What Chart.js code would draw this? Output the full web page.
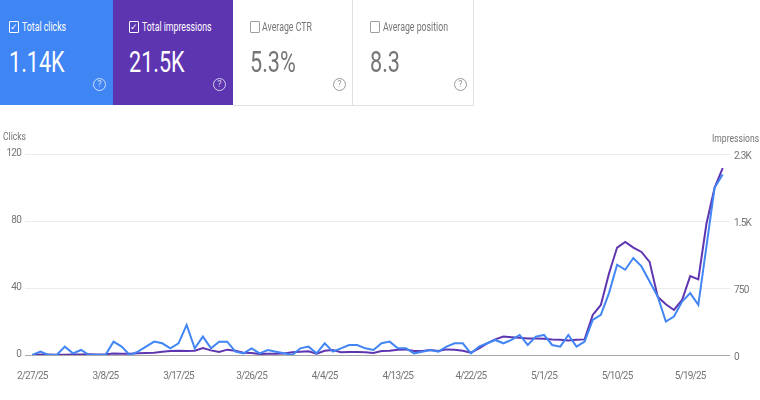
<!DOCTYPE html>
<html>
<head>
<meta charset="utf-8">
<title>Search performance</title>
<script src="https://cdn.jsdelivr.net/npm/chart.js@4"></script>
<style>
body { margin: 0; background: #fff; font-family: Roboto, sans-serif; width: 760px; height: 400px; overflow: hidden; position: relative; }
canvas { position: absolute; left: 0; top: 0; }
.card { position: absolute; top: 0; height: 105px; box-sizing: border-box; color: #fff; }
.card.off { color: #757575; border-right: 1px solid #e0e0e0; border-bottom: 1px solid #e0e0e0; height: 106px; }
.box { position: absolute; top: 21px; width: 8px; height: 10px; border: 1px solid #fff; border-radius: 1px; font-size: 9px; line-height: 10px; text-align: center; }
.off .box { border-color: #9e9e9e; }
.name { position: absolute; top: 19px; font-size: 12px; line-height: 16px; white-space: nowrap; transform: scaleX(.73); transform-origin: left; }
.num { position: absolute; top: 44px; font-size: 30px; line-height: 36px; white-space: nowrap; transform: scaleX(.72); transform-origin: left; }
.help { position: absolute; top: 78px; width: 11px; height: 11px; border: 1px solid; border-radius: 50%; font-size: 9px; line-height: 11px; text-align: center; opacity: .75; }
.axis { position: absolute; font-size: 11px; color: #757575; white-space: nowrap; transform: scaleX(.78); transform-origin: left; }
</style>
</head>
<body>
<canvas id="canvas" width="760" height="400"></canvas>

<div class="card" style="left:0;width:113px;background:#3f85f3">
  <div class="box" style="left:9px">&#10003;</div><div class="name" style="left:22px">Total clicks</div>
  <div class="num" style="left:9px">1.14K</div><div class="help" style="left:93px">?</div>
</div>
<div class="card" style="left:113px;width:120px;background:#5e35b1">
  <div class="box" style="left:16px">&#10003;</div><div class="name" style="left:29px">Total impressions</div>
  <div class="num" style="left:16px">21.5K</div><div class="help" style="left:100px">?</div>
</div>
<div class="card off" style="left:233px;width:120px">
  <div class="box" style="left:17px"></div><div class="name" style="left:29px">Average CTR</div>
  <div class="num" style="left:17px">5.3%</div><div class="help" style="left:100px">?</div>
</div>
<div class="card off" style="left:353px;width:121px">
  <div class="box" style="left:17px"></div><div class="name" style="left:30px">Average position</div>
  <div class="num" style="left:17px">8.3</div><div class="help" style="left:101px">?</div>
</div>

<div class="axis" style="left:3px;top:130px">Clicks</div>
<div class="axis" style="left:712px;top:132px">Impressions</div>

<script>
// values, one per day from 2/27/25
const clicks = [0,2,0,0,5,1,3,0,0,0,8,5,0,2,5,8,7,4,7,18,4,11,4,8,8,2,1,4,1,3,2,1,0,4,5,1,7,2,4,6,6,4,3,7,8,4,4,1,2,3,2,5,7,7,1,5,7,9,7,9,12,6,11,12,6,5,12,5,8,21,24,37,54,51,58,53,44,35,20,23,32,37,30,65,100,108];
const impressions = [0,5,5,3,3,5,5,8,5,8,18,15,15,20,22,26,37,45,48,45,48,78,52,33,60,48,26,22,11,15,15,18,30,37,41,15,48,56,30,33,33,30,22,45,48,60,63,45,45,56,45,63,60,48,26,75,130,175,208,200,193,186,186,182,175,171,164,171,175,450,561,915,1205,1268,1205,1156,1045,654,569,505,617,885,848,1472,1874,2097];
const days = clicks.map((v, i) => i);

const tickDays = [0,9,18,27,36,45,54,63,72,81];
const tickLabels = ['2/27/25','3/8/25','3/17/25','3/26/25','4/4/25','4/13/25','4/22/25','5/1/25','5/10/25','5/19/25'];
const clickTicks = [0,40,80,120];
const impressionTicks = [0,750,1500,2250];
const impressionLabels = ['0','750','1.5K','2.3K'];

const tickFont = { family: 'Roboto', size: 10 };
const tickColor = '#757575';

// the tick labels in the picture are narrow, canvas has no scaleX for them
const narrowText = {
    id: 'narrowText',
    beforeDraw: (chart) => { chart.ctx.letterSpacing = '-0.8px'; }
};

const ctx = document.getElementById('canvas').getContext('2d');
const myChart = new Chart(ctx, {
    type: 'line',
    plugins: [narrowText],
    data: {
        datasets: [{
            label: 'Clicks',
            data: days.map(d => ({ x: d, y: clicks[d] })),
            yAxisID: 'y',
            borderColor: '#4285f4',
            borderWidth: 2
        }, {
            label: 'Impressions',
            data: days.map(d => ({ x: d, y: impressions[d] })),
            yAxisID: 'y1',
            borderColor: '#5e35b1',
            borderWidth: 2
        }]
    },
    options: {
        responsive: false,
        animation: false,
        layout: { padding: { top: 154.4 } },
        elements: { point: { radius: 0 }, line: { tension: 0 } },
        plugins: { legend: { display: false }, tooltip: { enabled: false } },
        scales: {
            x: {
                type: 'linear',
                min: -0.9,
                max: 85.9,
                grid: { display: false },
                border: { display: false },
                afterBuildTicks: (axis) => { axis.ticks = tickDays.map(d => ({ value: d })); },
                afterFit: (axis) => { axis.height = 45; },
                ticks: {
                    autoSkip: false,
                    maxRotation: 0,
                    padding: 7,
                    color: tickColor,
                    font: tickFont,
                    callback: (v) => tickLabels[tickDays.indexOf(v)]
                }
            },
            y: {
                position: 'left',
                min: 0,
                max: 120,
                afterBuildTicks: (axis) => { axis.ticks = clickTicks.map(v => ({ value: v })); },
                afterFit: (axis) => { axis.width = 25; },
                border: { display: false },
                grid: {
                    drawTicks: false,
                    color: (c) => c.tick.value === 0 ? '#a8a8a8' : '#ececec'
                },
                ticks: { padding: 4, labelOffset: -1, color: tickColor, font: tickFont }
            },
            y1: {
                position: 'right',
                min: 0,
                max: 2250,
                afterBuildTicks: (axis) => { axis.ticks = impressionTicks.map(v => ({ value: v })); },
                afterFit: (axis) => { axis.width = 30; },
                border: { display: false },
                grid: { display: false, drawTicks: false },
                ticks: {
                    padding: 4,
                    labelOffset: 2,
                    color: tickColor,
                    font: tickFont,
                    callback: (v) => impressionLabels[impressionTicks.indexOf(v)]
                }
            }
        }
    }
});
</script>
</body>
</html>
